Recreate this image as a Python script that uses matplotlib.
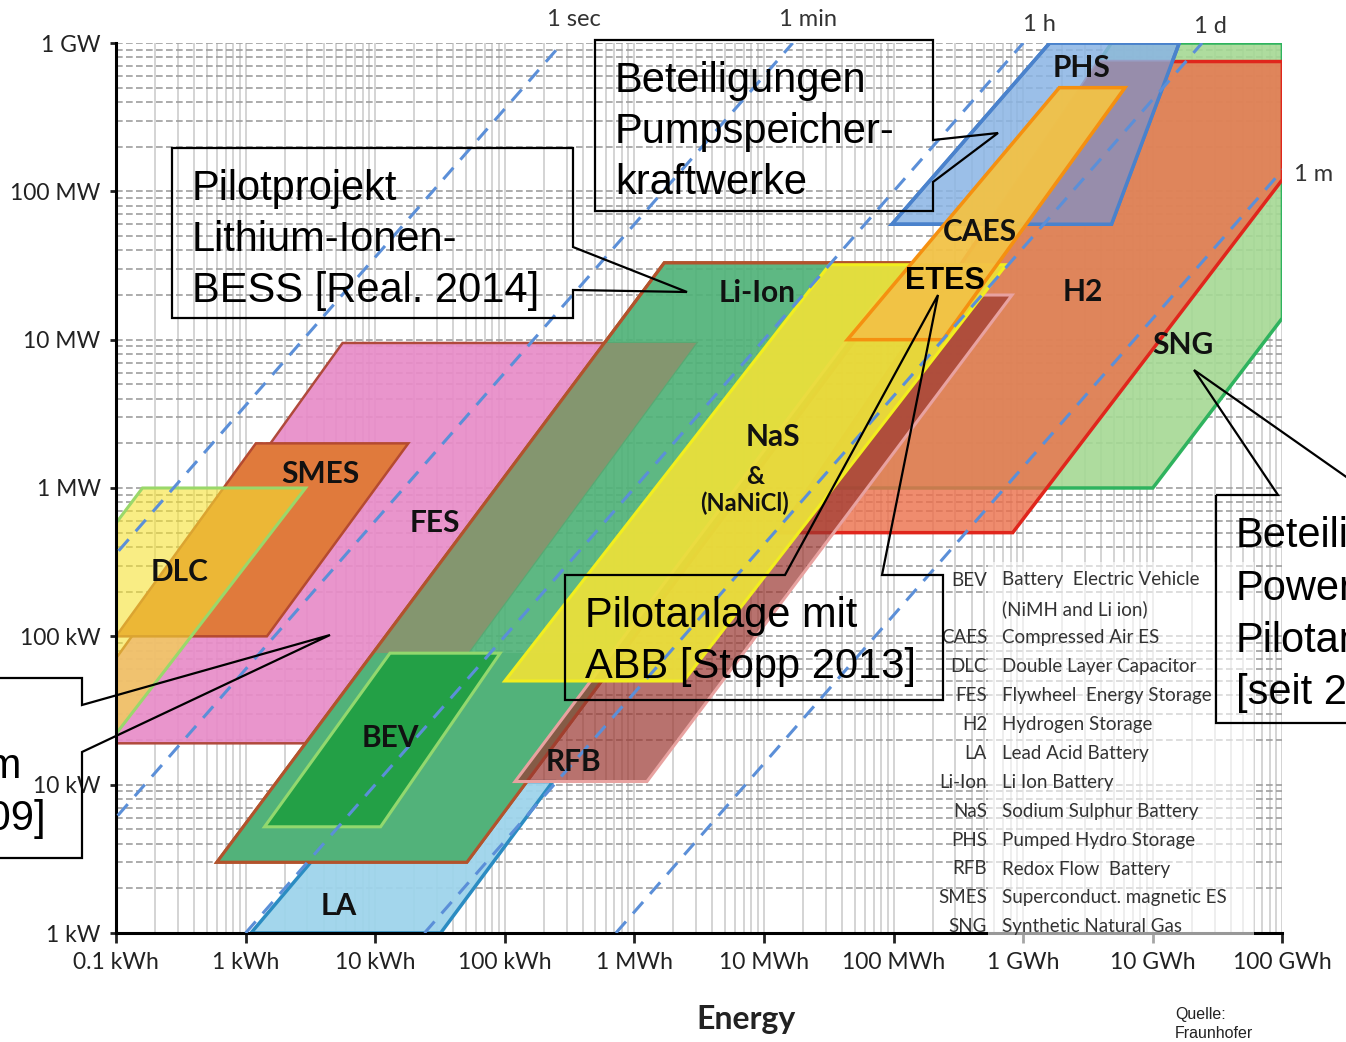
import matplotlib.pyplot as plt
import numpy as np
from matplotlib.colors import to_rgba
from matplotlib.patches import Polygon, Rectangle
from matplotlib.ticker import LogLocator, NullFormatter
from matplotlib.transforms import Affine2D

NARROW = ["Lato", "DejaVu Sans"]
ARIAL = ["Liberation Sans", "DejaVu Sans"]
plt.rcParams["font.family"] = NARROW

# axes: energy in kWh, power in kW
energy_ticks = [0.1, 1, 10, 100, 1e3, 1e4, 1e5, 1e6, 1e7, 1e8]
energy_labels = ["0.1 kWh", "1 kWh", "10 kWh", "100 kWh", "1 MWh", "10 MWh",
                 "100 MWh", "1 GWh", "10 GWh", "100 GWh"]
power_ticks = [1, 10, 100, 1e3, 1e4, 1e5, 1e6]
power_labels = ["1 kW", "10 kW", "100 kW", "1 MW", "10 MW", "100 MW", "1 GW"]

# discharge time lines (hours)
disch_hours = [1 / 3600, 1 / 60, 1, 24, 720]
disch_names = ["1 sec", "1 min", "1 h", "1 d", "1 m"]
disch_label_at = [(340, 1.45e6), (2.2e4, 1.45e6), (1.33e6, 1.33e6),
                  (2.8e7, 1.3e6), (1.75e8, 1.29e5)]

# storage areas, corners as (energy kWh, power kW)
SNG = [(2.3e4, 1000), (1.0e7, 1000), (1e8, 1.4e4), (1e8, 1e6), (4.8e6, 1e6)]
H2 = [(1.3e4, 500), (8.3e5, 500), (1e8, 1.2e5), (1e8, 7.5e5), (3.8e6, 7.5e5)]
PHS = [(9.7e4, 6e4), (4.8e6, 6e4), (1.6e7, 1e6), (1.6e6, 1e6)]
CAES = [(4.4e4, 1e4), (2.4e5, 1e4), (6.1e6, 5e5), (1.9e6, 5e5)]
NAS = [(100, 50), (2400, 50), (7.4e5, 3.2e4), (3.2e4, 3.2e4)]
RFB = [(120, 10.5), (1250, 10.5), (8.2e5, 2e4), (8e4, 2e4)]
LI_ION = [(0.6, 3), (51, 3), (1.4e5, 3.3e4), (1.7e3, 3.3e4)]
FES = [(0.1, 19), (16, 19), (3000, 9500), (5.6, 9500), (0.1, 71)]
BEV = [(1.4, 5.2), (11, 5.2), (92, 77), (13, 77)]
LA = [(1.1, 1), (32, 1), (235, 10.5), (10.7, 10.5)]
SMES = [(0.1, 100), (1.46, 100), (18, 2000), (1.2, 2000)]
DLC = [(0.1, 22), (0.1, 580), (0.16, 1000), (2.9, 1000)]

# area names and where they sit
names = ["PHS", "CAES", "H2", "SNG", "Li-Ion", "NaS", "SMES", "FES", "DLC", "BEV", "RFB", "LA"]
name_at = [(2.84e6, 6.8e5), (4.6e5, 5.3e4), (2.9e6, 2.1e4), (1.7e7, 9.2e3),
           (8.8e3, 2.07e4), (1.17e4, 2.2e3), (3.75, 1.24e3), (28.9, 582),
           (0.312, 272), (13, 20.6), (336, 14.2), (5.2, 1.52)]

legend_abbr = ["BEV", "", "CAES", "DLC", "FES", "H2", "LA", "Li-Ion", "NaS",
               "PHS", "RFB", "SMES", "SNG"]
legend_text = ["Battery  Electric Vehicle", "(NiMH and Li ion)", "Compressed Air ES",
               "Double Layer Capacitor", "Flywheel  Energy Storage", "Hydrogen Storage",
               "Lead Acid Battery", "Li Ion Battery", "Sodium Sulphur Battery",
               "Pumped Hydro Storage", "Redox Flow  Battery",
               "Superconduct. magnetic ES", "Synthetic Natural Gas"]

W, H = 1346, 1042
fig = plt.figure(figsize=(W / 100, H / 100), dpi=100)
ax = fig.add_axes([116 / W, 109 / H, 1166.4 / W, 890 / H])
ax.set_xscale("log")
ax.set_yscale("log")
ax.set_xlim(0.1, 1e8)
ax.set_ylim(1, 1e6)
ax.xaxis.set_minor_locator(LogLocator(base=10, subs=np.arange(2, 10), numticks=100))
ax.yaxis.set_minor_locator(LogLocator(base=10, subs=np.arange(2, 10), numticks=100))
ax.xaxis.set_minor_formatter(NullFormatter())
ax.yaxis.set_minor_formatter(NullFormatter())
ax.set_axisbelow(True)
ax.grid(True, which="both", axis="x", color="#c9c9c9", lw=1.1)
ax.grid(True, which="both", axis="y", color="#9e9e9e", lw=1.2, ls=(0, (4, 2)))


def area(pts, fc, ec, alpha=1.0, lw=2.0, z=2):
    p = Polygon(pts, closed=True, facecolor=to_rgba(fc, alpha), edgecolor=ec,
                lw=lw, zorder=z, joinstyle="miter")
    ax.add_patch(p)
    return p


def overlap(pts, clip_pts, fc, z):
    p = Polygon(pts, closed=True, facecolor=fc, edgecolor="none", zorder=z)
    ax.add_patch(p)
    p.set_clip_path(Polygon(clip_pts, closed=True, transform=ax.transData))
    return p


def outline(pts, ec, lw, z):
    ax.add_patch(Polygon(pts, closed=True, fill=False, edgecolor=ec, lw=lw, zorder=z))


area(SNG, "#a5d994", "#2fb35e", 0.9, 2.5, 1.0)
area(H2, "#ec6f4a", "#e0261c", 0.8, 2.5, 1.1)
area(PHS, "#8ab4e4", "#4a82cc", 0.85, 2.5, 1.2)
overlap(H2, PHS, "#978dab", 1.3)
outline(PHS, "#4a82cc", 2.5, 1.35)
area(LA, "#9ed4eb", "#2b8cc2", 0.95, 2.5, 1.4)
area(FES, "#e88cc8", "#b04a3c", 0.92, 1.8, 1.5)
area(LI_ION, "#50b278", "#b2532c", 0.92, 2.2, 1.6)
overlap(FES, LI_ION, "#84966f", 1.65)
low = Rectangle((0.1, 1), 1e8, BEV[2][1] - 1, facecolor="#52b27a", edgecolor="none", zorder=1.66)
ax.add_patch(low)
low.set_clip_path(Polygon(LI_ION, closed=True, transform=ax.transData))
outline(LI_ION, "#b2532c", 2.2, 1.67)
area(BEV, "#23a046", "#92d86e", 1.0, 2.2, 1.7)
area(SMES, "#e07a3c", "#b54a30", 1.0, 1.8, 1.8)
area(DLC, "#f5e132", "#9ad86a", 0.6, 2.2, 1.9)
area(RFB, "#9b3730", "#e8a2a0", 0.7, 2.2, 2.0)
area(NAS, "#ebe03a", "#f2ee1e", 0.94, 2.2, 2.1)
area(CAES, "#f2c246", "#f59010", 0.95, 2.5, 2.2)

p_span = np.array([1.0, 1e6])
for h in disch_hours:
    ax.plot(p_span * h, p_span, color="#5b8fd8", lw=2.2, ls=(0, (5, 3.5)), zorder=5)
for name, (e, p) in zip(disch_names, disch_label_at):
    ax.text(e, p, name, ha="center", va="center", fontsize=17, color="#333333",
            clip_on=False)

for name, (e, p) in zip(names, name_at):
    ax.text(e, p, name, ha="center", va="center", fontsize=21.5, fontweight="bold",
            color="#111111", zorder=7)
ax.text(8.5e3, 1.2e3, "&", ha="center", va="center", fontsize=18, fontweight="bold",
        color="#111111", zorder=7)
ax.text(7.1e3, 794, "(NaNiCl)", ha="center", va="center", fontsize=17, fontweight="bold",
        color="#111111", zorder=7)
ax.text(2.5e5, 2.5e4, "ETES", ha="center", va="center", fontsize=22, fontweight="bold",
        family=ARIAL, color="#000000", zorder=7)

ax.set_xticks(energy_ticks, energy_labels)
ax.set_yticks(power_ticks, power_labels)
ax.tick_params(which="minor", length=0)
ax.tick_params(axis="x", which="major", length=7, width=2, pad=7, labelsize=16.5,
               colors="#222222")
ax.tick_params(axis="y", which="major", length=4, width=2, pad=7, labelsize=16.5,
               colors="#222222")
ax.set_xlabel("Energy", fontsize=23, fontweight="bold", color="#222222")
ax.xaxis.set_label_coords(0.54, -0.081)
ax.spines["top"].set_visible(False)
ax.spines["right"].set_visible(False)
ax.spines["left"].set_linestyle((0, (2, 1)))
ax.spines["left"].set_linewidth(2.2)
ax.spines["bottom"].set_linewidth(2.2)

# overlay in picture pixels (origin top left)
px = Affine2D().scale(1 / W, -1 / H).translate(0, 1) + fig.transFigure

fig.add_artist(Rectangle((988, 562), 266, 385, facecolor=(1, 1, 1, 0.6),
                         edgecolor="none", transform=px, zorder=2))
for i, (a, t) in enumerate(zip(legend_abbr, legend_text)):
    y = 580 + i * 28.9
    fig.text(987, y, a, transform=px, ha="right", va="center", fontsize=13.5,
             color="#333333", zorder=3)
    fig.text(1002, y, t, transform=px, ha="left", va="center", fontsize=13.5,
             color="#333333", zorder=3)

boxes = [
    [(172, 148), (573, 148), (573, 247), (687, 292), (573, 290), (573, 318), (172, 318)],
    [(595, 40), (933, 40), (933, 140), (998, 133), (933, 182), (933, 211), (595, 211)],
    [(565, 575), (785, 575), (938, 295), (882, 575), (943, 575), (943, 700), (565, 700)],
    [(1216, 495), (1278, 495), (1194, 370), (1372, 495), (1500, 495), (1500, 723), (1216, 723)],
    [(-100, 678), (82, 678), (82, 705), (330, 635), (82, 752), (82, 858), (-100, 858)],
]
for b in boxes:
    fig.add_artist(Polygon(b, closed=True, fill=False, edgecolor="black", lw=1.6,
                           transform=px, zorder=4))

notes = [
    (192, [200, 251, 302], ["Pilotprojekt", "Lithium-Ionen-", "BESS [Real. 2014]"]),
    (615, [92, 143, 194], ["Beteiligungen", "Pumpspeicher-", "kraftwerke"]),
    (585, [627, 678], ["Pilotanlage mit", "ABB [Stopp 2013]"]),
    (1236, [547, 600, 652, 704], ["Beteiligungen", "Power-to-Gas-", "Pilotanlage", "[seit 2013]"]),
]
for x, ys, lines in notes:
    for y, s in zip(ys, lines):
        fig.text(x, y, s, transform=px, ha="left", va="baseline", fontsize=30,
                 family=ARIAL, color="black", zorder=5)
fig.text(22, 778, "Großbatteriesystem", transform=px, ha="right", va="baseline",
         fontsize=30, family=ARIAL, color="black", zorder=5)
fig.text(46, 830, "[Real. 2009]", transform=px, ha="right", va="baseline",
         fontsize=30, family=ARIAL, color="black", zorder=5)

fig.text(1175, 1015, "Quelle:", transform=px, ha="left", va="center", fontsize=11.5,
         family=ARIAL, color="#222222")
fig.text(1175, 1033, "Fraunhofer", transform=px, ha="left", va="center", fontsize=11.5,
         family=ARIAL, color="#222222")

fig.savefig("out.png", dpi=100, facecolor="white")
